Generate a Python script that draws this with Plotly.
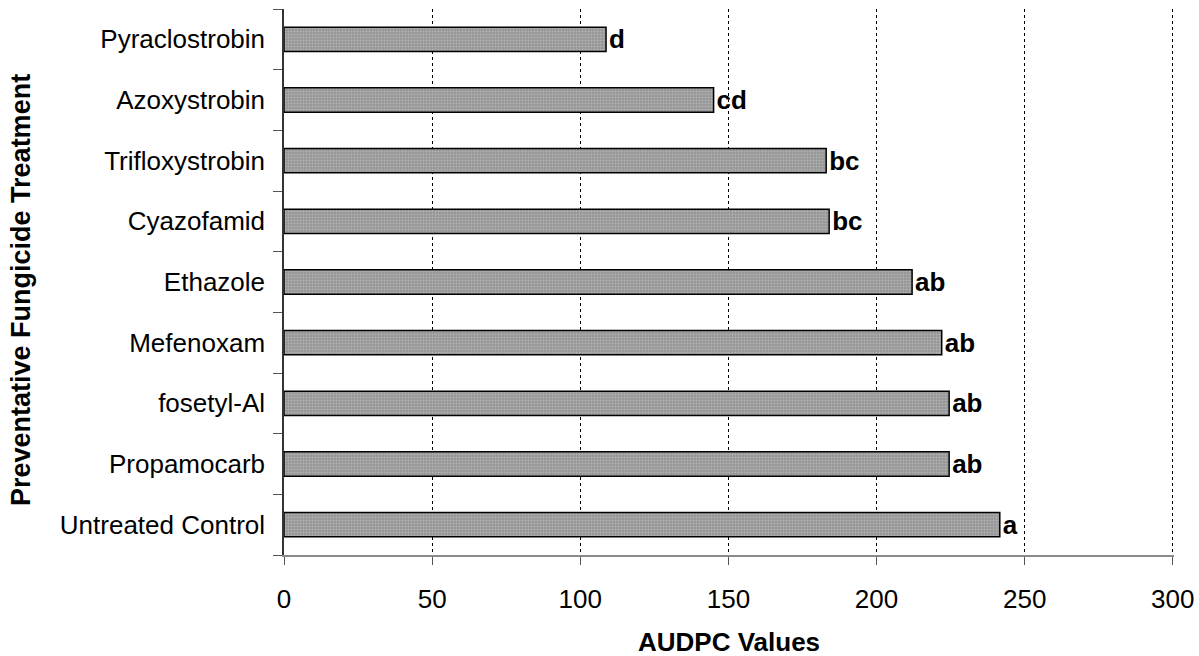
import plotly.graph_objects as go

treatments = ["Untreated Control", "Propamocarb", "fosetyl-Al", "Mefenoxam", "Ethazole",
              "Cyazofamid", "Trifloxystrobin", "Azoxystrobin", "Pyraclostrobin"]
audpc = [241.6, 224.5, 224.5, 222, 212, 184, 183, 145, 108.7]
letters = ["a", "ab", "ab", "ab", "ab", "bc", "bc", "cd", "d"]
x_ticks = [0, 50, 100, 150, 200, 250, 300]

W, H = 1199, 656
ML, MR, MT, MB = 284, 25, 9, 101
pw = W - ML - MR
ph = H - MT - MB

fig = go.Figure()
fig.add_trace(go.Bar(
    y=treatments, x=audpc, orientation="h", width=0.4,
    text=letters, textposition="outside", cliponaxis=False, constraintext="none",
    textfont=dict(family="Liberation Sans, Arial", size=26, color="black", weight="bold"),
    marker=dict(color="#a4a4a4",
                line=dict(color="black", width=1.5),
                pattern=dict(shape=".", fgcolor="#d0d0d0", bgcolor="#959595", size=3, solidity=0.4)),
    showlegend=False,
))

fig.update_layout(
    width=W, height=H,
    margin=dict(l=ML, r=MR, t=MT, b=MB, autoexpand=False),
    plot_bgcolor="white", paper_bgcolor="white",
    font=dict(family="Liberation Sans, Arial", size=26, color="black"),
    xaxis=dict(
        range=[0, 300.4], tickvals=x_ticks, ticktext=[str(v) for v in x_ticks],
        showgrid=True, gridcolor="black", griddash="dot", gridwidth=1,
        zeroline=False, showline=True, linecolor="#8a8a8a", linewidth=1.5,
        ticks="outside", ticklen=8, tickcolor="#555555", tickwidth=1,
        ticklabelstandoff=12, tickfont=dict(size=26),
    ),
    yaxis=dict(
        categoryorder="array", categoryarray=treatments,
        showgrid=False, zeroline=False, showline=True, linecolor="#333333", linewidth=1.5,
        ticks="outside", tickson="boundaries", ticklen=9, tickcolor="#555555", tickwidth=1,
        ticklabelstandoff=12, tickfont=dict(size=26),
    ),
    annotations=[
        dict(text="<b>AUDPC Values</b>", xref="paper", yref="paper",
             x=0.5, y=(H - MB - 642) / ph, xanchor="center", yanchor="middle",
             showarrow=False, font=dict(size=26)),
        dict(text="<b>Preventative Fungicide Treatment</b>", xref="paper", yref="paper",
             x=(21 - ML) / pw, y=(H - MB - 290) / ph, xanchor="center", yanchor="middle",
             textangle=-90, showarrow=False, font=dict(size=27)),
    ],
)

fig.write_html("out.html", config={"displayModeBar": False},
               post_script="document.body.style.margin='0';")
